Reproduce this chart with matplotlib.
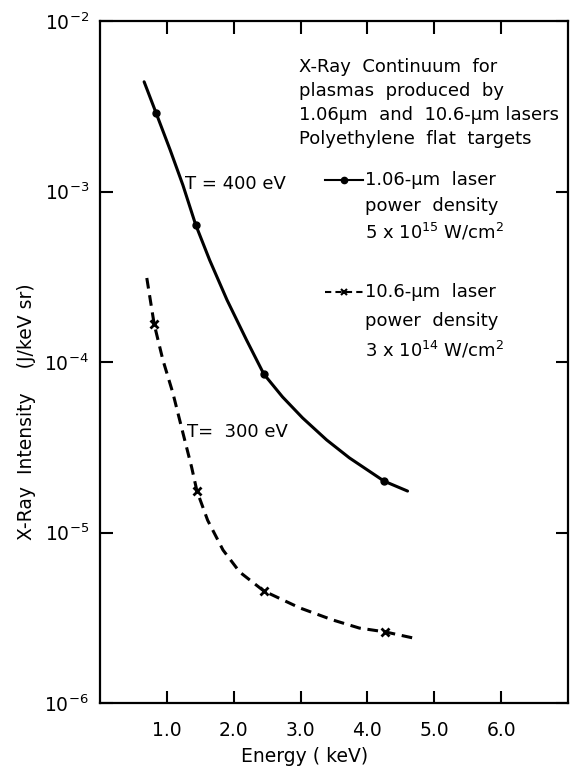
import numpy as np
import matplotlib
matplotlib.use("Agg")
import matplotlib.pyplot as plt

plt.rcParams['font.family'] = ['DejaVu Sans']
plt.rcParams['mathtext.fontset'] = 'dejavusans'

# 1.06 um laser, 5e15 W/cm^2 : traced curve and measured points
e_106 = [0.66, 0.84, 1.05, 1.24, 1.43, 1.64, 1.90, 2.19, 2.45, 2.73, 3.03, 3.39, 3.73, 4.25, 4.60]
i_106 = [4.4e-3, 2.88e-3, 1.75e-3, 1.09e-3, 6.4e-4, 3.96e-4, 2.31e-4, 1.35e-4, 8.5e-5,
         6.24e-5, 4.70e-5, 3.49e-5, 2.74e-5, 2.00e-5, 1.75e-5]
e_106_pts = [0.84, 1.43, 2.45, 4.25]
i_106_pts = [2.88e-3, 6.4e-4, 8.5e-5, 2.00e-5]

# 10.6 um laser, 3e14 W/cm^2
e_10 = [0.70, 0.81, 0.94, 1.09, 1.24, 1.37, 1.45, 1.61, 1.84, 2.09, 2.45, 2.99, 3.48, 3.88, 4.27, 4.76]
i_10 = [3.11e-4, 1.67e-4, 1.03e-4, 6.58e-5, 3.84e-5, 2.42e-5, 1.75e-5, 1.18e-5, 7.89e-6,
        5.86e-6, 4.54e-6, 3.61e-6, 3.07e-6, 2.75e-6, 2.61e-6, 2.37e-6]
e_10_pts = [0.81, 1.45, 2.45, 4.27]
i_10_pts = [1.67e-4, 1.75e-5, 4.54e-6, 2.61e-6]

xticks = [1.0, 2.0, 3.0, 4.0, 5.0, 6.0]
xtick_labels = ['1.0', '2.0', '3.0', '4.0', '5.0', '6.0']
ydecades = [-6, -5, -4, -3, -2]

title = ['X-Ray  Continuum  for', 'plasmas  produced  by',
         '1.06μm  and  10.6-μm lasers', 'Polyethylene  flat  targets']
leg1 = ['1.06-μm  laser', 'power  density', '5 x 10$^{15}$ W/cm$^2$']
leg2 = ['10.6-μm  laser', 'power  density', '3 x 10$^{14}$ W/cm$^2$']

fig = plt.figure(figsize=(5.73, 7.68), dpi=100)
ax = fig.add_axes([100/573, 1 - 703/768, 468/573, 682/768])

ax.plot(e_106, i_106, color='black', lw=2.2, solid_capstyle='round')
ax.plot(e_106_pts, i_106_pts, 'o', color='black', ms=5)
ax.plot(e_10, i_10, color='black', lw=2.2, linestyle=(0, (3.5, 2.2)))
ax.plot(e_10_pts, i_10_pts, 'x', color='black', ms=6, mew=2)

ax.set_yscale('log')
ax.set_xlim(0, 7.0)
ax.set_ylim(1e-6, 1e-2)
ax.set_xticks(xticks)
ax.set_xticklabels(xtick_labels)
ax.set_yticks([10.0**d for d in ydecades])
ax.set_yticklabels([f'$10^{{{d}}}$' for d in ydecades])
ax.minorticks_off()
ax.tick_params(direction='in', length=9, width=1.5, top=True, right=True,
               labelsize=13.5)
ax.tick_params(axis='x', pad=13)
ax.tick_params(axis='y', pad=8)
for s in ax.spines.values():
    s.set_linewidth(1.6)

fig.text(27/573, 1 - 412/768, 'X-Ray  Intensity    (J/keV sr)', rotation=90,
         ha='center', va='center', fontsize=13.5)
fig.text(305/573, 1 - 757/768, 'Energy ( keV)', ha='center', va='center', fontsize=13.5)

# title block
for k, line in enumerate(title):
    fig.text(299/573, 1 - (67 + 24*k)/768, line, ha='left', va='center', fontsize=13)

# legend entries drawn by hand
fig.add_artist(plt.Line2D([325/573, 363/573], [1 - 180/768]*2, color='black', lw=1.5))
fig.add_artist(plt.Line2D([344/573], [1 - 180/768], marker='o', ms=4.5, color='black'))
fig.add_artist(plt.Line2D([325/573, 363/573], [1 - 292/768]*2, color='black', lw=1.5,
                          linestyle=(0, (3, 2))))
fig.add_artist(plt.Line2D([344/573], [1 - 292/768], marker='x', ms=5, mew=1.5, color='black'))

for k, line in enumerate(leg1):
    fig.text(365/573, 1 - (180 + 26*k)/768, line, ha='left', va='center', fontsize=13)
for k, line in enumerate(leg2):
    fig.text(365/573, 1 - (292 + 29*k)/768, line, ha='left', va='center', fontsize=13)

ax.text(1.27, 1.1e-3, 'T = 400 eV', fontsize=13, va='center')
ax.text(1.30, 3.9e-5, 'T=  300 eV', fontsize=13, va='center')

fig.savefig('out.png', dpi=100)
